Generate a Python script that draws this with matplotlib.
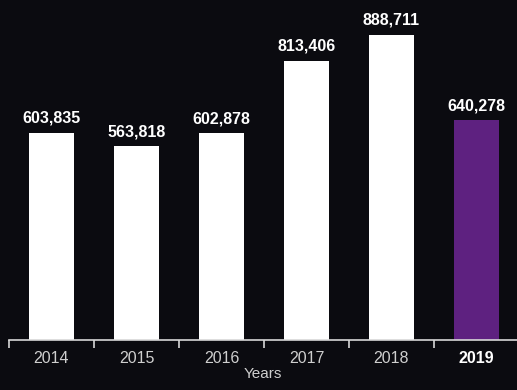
import numpy as np
import matplotlib.pyplot as plt
from matplotlib.ticker import FixedLocator

# Valores anuais
anos = ['2014', '2015', '2016', '2017', '2018', '2019']
valores = [603835, 563818, 602878, 813406, 888711, 640278]
cores = ['#ffffff', '#ffffff', '#ffffff', '#ffffff', '#ffffff', '#5e2180']

fundo = '#0b0b10'
plt.rcParams['font.family'] = ['Liberation Sans', 'DejaVu Sans']

fig = plt.figure(figsize=(5.17, 3.9), dpi=100, facecolor=fundo)
ax = fig.add_axes([9 / 517, 50 / 390, 508 / 517, 340 / 390], facecolor=fundo)

x = np.arange(len(anos))
barras = ax.bar(x, valores, width=0.53, color=cores, zorder=2)

# Rótulos com o valor em cima de cada barra
for b, v in zip(barras, valores):
    ax.annotate(f'{v:,}', (b.get_x() + b.get_width() / 2, v),
                xytext=(0, 5), textcoords='offset points',
                ha='center', va='bottom', color='white',
                fontsize=11.5, fontweight='bold')

ax.set_xlim(-0.5, -0.5 + 508 / 85)
ax.set_ylim(0, 990000)

for lado in ['top', 'right', 'left']:
    ax.spines[lado].set_visible(False)
ax.spines['bottom'].set_color('#d8d8d8')
ax.spines['bottom'].set_linewidth(1.2)

ax.set_yticks([])
ax.set_xticks(x)
ax.set_xticklabels(anos, fontsize=11.5, color='#cfcfcf')
ax.tick_params(axis='x', which='major', length=0, pad=8)
ax.xaxis.set_minor_locator(FixedLocator(np.arange(len(anos)) - 0.5))
ax.tick_params(axis='x', which='minor', length=6, width=1.2, color='#d8d8d8')

# Destaque do último ano
ultimo = ax.get_xticklabels()[-1]
ultimo.set_fontweight('bold')
ultimo.set_color('white')

ax.set_xlabel('Years', fontsize=11, color='#cfcfcf', labelpad=1)

fig.savefig('out.png', dpi=100, facecolor=fundo)
